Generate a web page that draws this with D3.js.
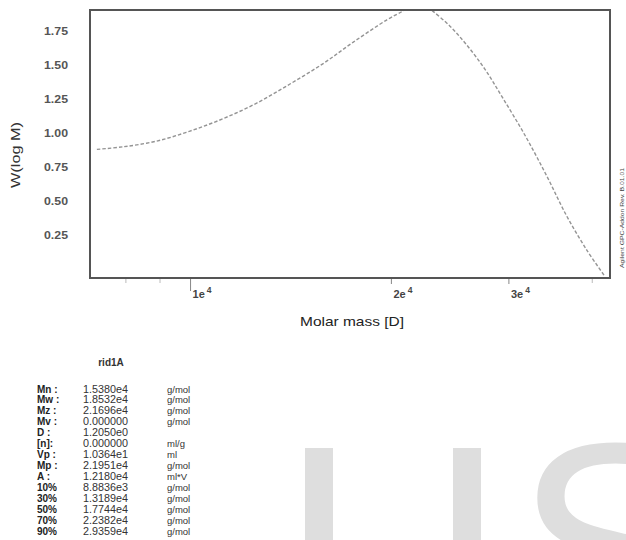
<!DOCTYPE html>
<html>
<head>
<meta charset="utf-8">
<script src="https://cdn.jsdelivr.net/npm/d3@7/dist/d3.min.js"></script>
<style>
  html, body { margin: 0; padding: 0; background: #fff; }
  svg { display: block; font-family: "Liberation Sans", Arial, sans-serif; }
</style>
</head>
<body>
<svg id="chart" width="626" height="540"></svg>
<script>
// Molecular weight distribution curve (W(log M) vs molar mass)
const molarMass = [7250, 7946, 8914, 10000, 11216, 12586, 14118, 15834, 17567, 19706,
                   20840, 21350, 21951, 22570, 23110, 24520, 25990, 27660, 29420,
                   31750, 34250, 36690, 39320, 41830];
const wLogM = [0.882, 0.901, 0.943, 1.017, 1.109, 1.223, 1.364, 1.515, 1.673, 1.836,
               1.902, 1.935, 1.960, 1.940, 1.902, 1.791, 1.651, 1.474, 1.261,
               0.988, 0.685, 0.390, 0.139, -0.053];

// Axis ticks
const yTicks = [0.25, 0.50, 0.75, 1.00, 1.25, 1.50, 1.75];
const xMajorTicks = [10000, 20000, 30000];
const xMajorLabels = ["1e", "2e", "3e"];
const xMajorExp = ["4", "4", "4"];
const xMinorTicks = [8000, 9000, 40000];

// Result table
const sampleName = "rid1A";
const statNames = ["Mn :", "Mw :", "Mz :", "Mv :", "D :", "[n]:", "Vp :", "Mp :", "A :",
                   "10%", "30%", "50%", "70%", "90%"];
const statValues = ["1.5380e4", "1.8532e4", "2.1696e4", "0.000000", "1.2050e0", "0.000000",
                    "1.0364e1", "2.1951e4", "1.2180e4", "8.8836e3", "1.3189e4", "1.7744e4",
                    "2.2382e4", "2.9359e4"];
const statUnits = ["g/mol", "g/mol", "g/mol", "g/mol", "", "ml/g", "ml", "g/mol", "ml*V",
                   "g/mol", "g/mol", "g/mol", "g/mol", "g/mol"];

const svg = d3.select("#chart");

const plot = { left: 90, right: 610, top: 10, bottom: 278 };

const x = d3.scaleLog().domain([7080, 42600]).range([plot.left, plot.right]);
const y = d3.scaleLinear().domain([-0.067, 1.91]).range([plot.bottom, plot.top]);

// Faint watermark lettering in the lower right
const wm = svg.append("g").attr("fill", "#dedede");
wm.append("rect").attr("x", 305).attr("y", 448).attr("width", 28).attr("height", 92);
wm.append("rect").attr("x", 453).attr("y", 448).attr("width", 28).attr("height", 92);
wm.append("text")
  .attr("x", 514).attr("y", 652)
  .attr("font-size", 300)
  .text("S");

// Clip region for the curve
svg.append("clipPath").attr("id", "plotClip")
  .append("rect")
  .attr("x", plot.left).attr("y", plot.top)
  .attr("width", plot.right - plot.left).attr("height", plot.bottom - plot.top);

// Y axis labels (no tick marks)
const yAxis = d3.axisLeft(y).tickValues(yTicks).tickSize(0).tickPadding(22)
  .tickFormat(d3.format(".2f"));
const gy = svg.append("g").attr("transform", `translate(${plot.left},0)`).call(yAxis);
gy.select(".domain").remove();
gy.selectAll("text")
  .attr("font-size", 10)
  .attr("font-weight", "bold")
  .attr("fill", "#555")
  .attr("textLength", 24)
  .attr("lengthAdjust", "spacingAndGlyphs");

// X axis: minor and major tick marks
const xAxisMinor = d3.axisBottom(x).tickValues(xMinorTicks).tickSize(5).tickFormat("");
const gxm = svg.append("g").attr("transform", `translate(0,${plot.bottom})`).call(xAxisMinor);
gxm.select(".domain").remove();
gxm.selectAll("line").attr("stroke", "#bbb");

const xAxisMajor = d3.axisBottom(x).tickValues(xMajorTicks).tickSize(6).tickFormat("");
const gx = svg.append("g").attr("transform", `translate(0,${plot.bottom})`).call(xAxisMajor);
gx.select(".domain").remove();
gx.selectAll(".tick line")
  .attr("stroke", "#888")
  .attr("y2", (d) => d === 10000 ? 13 : 6);
gx.selectAll(".tick").each(function (d, i) {
  const t = d3.select(this).append("text")
    .attr("x", 2).attr("y", 20)
    .attr("fill", "#444")
    .attr("font-size", 11)
    .attr("font-weight", "bold")
    .attr("text-anchor", "start");
  t.append("tspan").text(xMajorLabels[i]);
  t.append("tspan").attr("dx", 2).attr("dy", -5).attr("font-size", 8.5).text(xMajorExp[i]);
});

// Distribution curve
const line = d3.line()
  .x((d, i) => x(molarMass[i]))
  .y((d) => y(d))
  .curve(d3.curveCatmullRom.alpha(0.5));
svg.append("path")
  .datum(wLogM)
  .attr("clip-path", "url(#plotClip)")
  .attr("fill", "none")
  .attr("stroke", "#949494")
  .attr("stroke-width", 1.4)
  .attr("stroke-dasharray", "3.5,2")
  .attr("d", line);

// Plot frame
svg.append("rect")
  .attr("x", plot.left).attr("y", plot.top)
  .attr("width", plot.right - plot.left).attr("height", plot.bottom - plot.top)
  .attr("fill", "none")
  .attr("stroke", "#555")
  .attr("stroke-width", 2);

// Axis titles
svg.append("text")
  .attr("x", 352).attr("y", 326)
  .attr("text-anchor", "middle")
  .attr("font-size", 13)
  .attr("fill", "#222")
  .attr("textLength", 104)
  .attr("lengthAdjust", "spacingAndGlyphs")
  .text("Molar mass [D]");

svg.append("text")
  .attr("transform", "translate(20,155) rotate(-90)")
  .attr("text-anchor", "middle")
  .attr("font-size", 13)
  .attr("fill", "#333")
  .attr("textLength", 66)
  .attr("lengthAdjust", "spacingAndGlyphs")
  .text("W(log M)");

// Small vertical software note at the right edge
svg.append("text")
  .attr("transform", "translate(624,268) rotate(-90)")
  .attr("font-size", 6)
  .attr("fill", "#444")
  .attr("textLength", 100)
  .attr("lengthAdjust", "spacingAndGlyphs")
  .text("Agilent GPC-Addon Rev. B.01.01");

// Results table
svg.append("text")
  .attr("x", 111).attr("y", 366)
  .attr("text-anchor", "middle")
  .attr("font-size", 10)
  .attr("font-weight", "bold")
  .attr("fill", "#333")
  .text(sampleName);

const rowY = d3.scaleLinear().domain([0, statNames.length - 1]).range([392.5, 535.2]);
const table = svg.append("g").attr("fill", "#222");
statNames.forEach((name, i) => {
  table.append("text")
    .attr("x", 37).attr("y", rowY(i))
    .attr("font-size", 10).attr("font-weight", "bold")
    .text(name);
  table.append("text")
    .attr("x", 83).attr("y", rowY(i))
    .attr("font-size", 10).attr("fill", "#333")
    .attr("textLength", 45).attr("lengthAdjust", "spacingAndGlyphs")
    .text(statValues[i]);
  if (statUnits[i]) {
    table.append("text")
      .attr("x", 167).attr("y", rowY(i))
      .attr("font-size", 9.5).attr("fill", "#333")
      .text(statUnits[i]);
  }
});
</script>
</body>
</html>
